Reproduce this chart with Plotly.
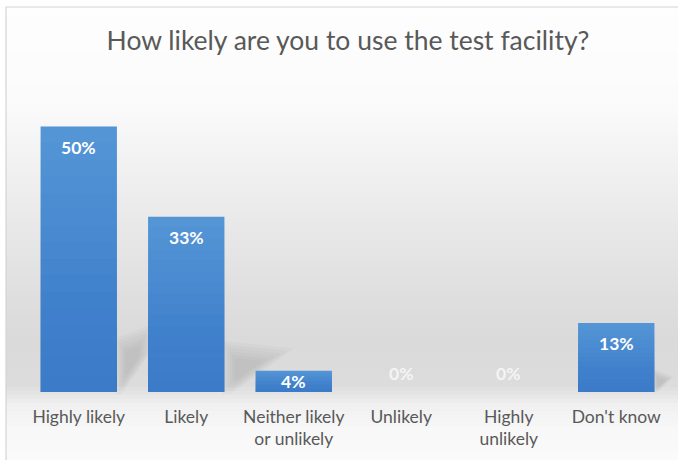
import plotly.graph_objects as go

# Survey results
categories = ["Highly likely", "Likely", "Neither likely<br>or unlikely",
              "Unlikely", "Highly<br>unlikely", "Don't know"]
percentages = [50, 33, 4, 0, 0, 13]
title_text = "How likely are you to use the test facility?"

# Figure geometry (pixels)
W, H = 678, 460
M_L, M_R, M_T, M_B = 25, 8, 100, 68
Y_MAX = 55
plot_w = W - M_L - M_R
plot_h = H - M_T - M_B
px_per_unit = plot_h / Y_MAX


def paper_x(px):
    return (px - M_L) / plot_w


def paper_y(py):
    return (H - M_B - py) / plot_h


def bg_grey(py):
    # vertical wash: white at the top, grey towards the floor, lighter below it
    stops = [(0, 254), (100, 251), (200, 236), (300, 222), (340, 218),
             (385, 220), (405, 240), (430, 248), (460, 250)]
    for (y0, g0), (y1, g1) in zip(stops, stops[1:]):
        if y0 <= py <= y1:
            return g0 + (g1 - g0) * (py - y0) / (y1 - y0)
    return stops[-1][1]


shapes = []
step = 4
for py in range(7, H, step):
    g = int(round(bg_grey(py + step / 2)))
    shapes.append(dict(
        type="rect", xref="paper", yref="paper", layer="below",
        x0=paper_x(6), x1=paper_x(W + 5),
        y0=paper_y(py + step), y1=paper_y(py),
        fillcolor=f"rgb({g},{g},{g})", line=dict(width=0),
    ))


def soft_polygon(points, alpha):
    path = "M " + " L ".join(f"{paper_x(x)},{paper_y(y)}" for x, y in points) + " Z"
    return dict(type="path", xref="paper", yref="paper", layer="below", path=path,
                fillcolor=f"rgba(110,110,110,{alpha})", line=dict(width=0))


# soft cast shadows to the right of the columns
shadow_sets = [
    [(117, 340), (150, 327), (150, 352), (122, 392), (117, 392)],
    [(224, 343), (290, 350), (232, 392), (224, 392)],
    [(654, 370), (673, 377), (657, 392), (654, 392)],
]
for pts in shadow_sets:
    cx = sum(p[0] for p in pts) / len(pts)
    cy = sum(p[1] for p in pts) / len(pts)
    for s in (1.08, 0.95, 0.82, 0.69, 0.56, 0.43):
        layer = [(cx + (x - cx) * s, cy + (y - cy) * s) for x, y in pts]
        shapes.append(soft_polygon(layer, 0.045))

# chart frame
shapes.append(dict(
    type="rect", xref="paper", yref="paper", layer="above",
    x0=paper_x(6), x1=paper_x(W + 5), y0=paper_y(H + 5), y1=paper_y(7),
    fillcolor="rgba(0,0,0,0)", line=dict(color="#d4d4d4", width=1.2),
))

fig = go.Figure()
# base column colour (top of the gradient)
fig.add_trace(go.Bar(
    x=categories, y=percentages,
    marker=dict(color="rgb(86,151,215)", line=dict(width=0)),
    hoverinfo="skip",
))
# translucent layers darken each column towards its base
N_LAYERS = 16
for k in range(1, N_LAYERS + 1):
    fig.add_trace(go.Bar(
        x=categories, y=[v * k / N_LAYERS for v in percentages],
        marker=dict(color="rgba(20,90,185,0.03)", line=dict(width=0)),
        hoverinfo="skip",
    ))

annotations = []
for cat, v in zip(categories, percentages):
    bar_px = v * px_per_unit
    if v == 0:
        shift = 19
        color = "#f4f4f4"
    else:
        shift = -min(21, bar_px / 2)
        color = "#ffffff"
    annotations.append(dict(
        x=cat, y=v, xref="x", yref="y", text=f"{v}%",
        showarrow=False, yanchor="middle", yshift=shift,
        font=dict(family="Lato", size=17.5, color=color, weight="bold"),
    ))

fig.update_layout(
    width=W, height=H,
    margin=dict(l=M_L, r=M_R, t=M_T, b=M_B, pad=0),
    paper_bgcolor="white", plot_bgcolor="rgba(0,0,0,0)",
    barmode="overlay", bargap=0.29,
    showlegend=False,
    title=dict(text=title_text, x=348 / W, xanchor="center",
               y=1 - 41 / H, yanchor="middle", xref="container", yref="container",
               font=dict(family="Lato", size=26.5, color="#595959")),
    xaxis=dict(showgrid=False, zeroline=False, showline=False, ticks="",
               ticklabelstandoff=12,
               tickfont=dict(family="Lato", size=17.5, color="#595959")),
    yaxis=dict(range=[0, Y_MAX], visible=False),
    shapes=shapes,
    annotations=annotations,
)

fig.write_html("out.html")
